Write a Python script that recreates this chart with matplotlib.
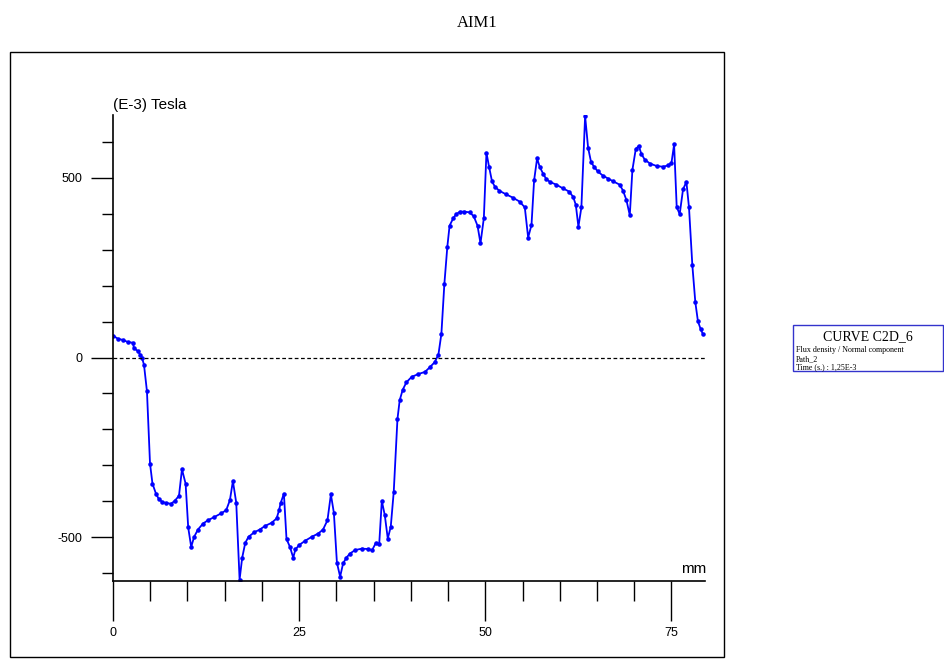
import matplotlib
matplotlib.use("Agg")
from matplotlib import pyplot as plt
from matplotlib.patches import Rectangle
from matplotlib.ticker import MultipleLocator

plt.rcParams["axes.unicode_minus"] = False

# Flux density, normal component along Path_2
x_mm = [0, 0.67, 1.34, 2.0, 2.7, 2.8, 3.35, 3.67, 3.9, 4.16,
        4.56, 4.97, 5.3, 5.77, 6.13, 6.6, 7.15, 7.8, 8.28, 8.86,
        9.26, 9.75, 10.1, 10.5, 10.9, 11.4, 12.1, 12.75, 13.6, 14.5,
        15.2, 15.7, 16.1, 16.55, 17.0, 17.35, 17.76, 18.2, 19.0, 19.7,
        20.4, 21.3, 21.97, 22.3, 22.5, 22.95, 23.3, 23.76, 24.2, 24.5,
        25.0, 25.8, 26.7, 27.55, 28.2, 28.8, 29.26, 29.66, 30.07, 30.5,
        30.9, 31.35, 31.8, 32.5, 33.4, 34.3, 34.8, 35.3, 35.75, 36.1,
        36.5, 36.9, 37.3, 37.7, 38.2, 38.5, 38.9, 39.4, 40.1, 41.0,
        41.9, 42.55, 43.2, 43.7, 44.1, 44.5, 44.9, 45.2, 45.7, 46.1,
        46.6, 47.2, 47.9, 48.45, 48.95, 49.35, 49.8, 50.15, 50.5, 50.9,
        51.3, 51.9, 52.8, 53.7, 54.6, 55.3, 55.75, 56.2, 56.55, 56.95,
        57.3, 57.75, 58.2, 58.75, 59.55, 60.4, 61.25, 61.8, 62.15, 62.5,
        62.9, 63.4, 63.8, 64.2, 64.6, 65.1, 65.8, 66.5, 67.2, 68.05,
        68.5, 68.95, 69.4, 69.75, 70.2, 70.6, 70.95, 71.4, 72.1, 73.0,
        73.9, 74.55, 75.0, 75.35, 75.7, 76.1, 76.55, 77.0, 77.35, 77.8,
        78.2, 78.55, 78.9, 79.2]
b_mT = [61, 52, 49, 43, 41, 26, 18, 7, -1, -20,
        -94, -295, -351, -379, -393, -402, -405, -407, -399, -385,
        -311, -351, -473, -527, -499, -479, -462, -453, -444, -434,
        -425, -397, -344, -404, -618, -557, -516, -499, -486, -479,
        -469, -460, -448, -425, -406, -379, -505, -527, -557, -534,
        -522, -510, -499, -490, -479, -453, -381, -432, -571, -610,
        -573, -557, -546, -536, -532, -533, -536, -516, -519, -399,
        -439, -504, -471, -374, -171, -119, -90, -69, -54, -46,
        -40, -27, -13, 8, 66, 205, 309, 367, 388, 399,
        406, 406, 404, 393, 367, 318, 388, 570, 531, 490,
        475, 464, 454, 445, 434, 418, 334, 369, 493, 554,
        531, 512, 496, 488, 481, 471, 462, 447, 425, 364,
        418, 672, 584, 544, 531, 518, 506, 498, 490, 481,
        464, 438, 396, 522, 580, 589, 567, 551, 540, 533,
        531, 535, 542, 593, 419, 399, 468, 489, 418, 257,
        154, 101, 80, 66]

x_ticks = [0, 25, 50, 75]
y_ticks = [-500, 0, 500]

W, H = 944, 668


def fx(px):
    return px / W


def fy(py):
    return 1 - py / H


fig = plt.figure(figsize=(W / 100, H / 100), dpi=100)
fig.patch.set_facecolor("white")

# outer frame around the plot area
fig.add_artist(Rectangle((fx(10), fy(657)), fx(724) - fx(10), fy(52) - fy(657),
                         transform=fig.transFigure, fill=False,
                         edgecolor="black", lw=1.0))

fig.text(fx(477), fy(23), "AIM1", ha="center", va="center",
         family="Liberation Serif", fontsize=12)

ax = fig.add_axes([fx(113), fy(581), fx(705) - fx(113), fy(115) - fy(581)])
ax.plot(x_mm, b_mT, color="#0000ff", lw=1.3, marker=".", ms=4.5)
ax.axhline(0, color="black", lw=0.9, ls=(0, (3, 2)))

ax.set_xlim(0, 79.5)
ax.set_ylim(-622, 675)

for s in ["top", "right"]:
    ax.spines[s].set_visible(False)
for s in ["left", "bottom"]:
    ax.spines[s].set_linewidth(1.2)

ax.set_xticks(x_ticks)
ax.set_yticks(y_ticks)
ax.xaxis.set_minor_locator(MultipleLocator(5))
ax.yaxis.set_minor_locator(MultipleLocator(100))
ax.tick_params(axis="x", which="major", direction="out", length=29, width=1.0, pad=4)
ax.tick_params(axis="x", which="minor", direction="out", length=14.5, width=1.0)
ax.tick_params(axis="y", which="major", direction="out", length=16, width=1.0, pad=6)
ax.tick_params(axis="y", which="minor", direction="out", length=8, width=1.0)
for lab in ax.get_xticklabels() + ax.get_yticklabels():
    lab.set_family("Liberation Sans")
    lab.set_fontsize(9)

fig.text(fx(113), fy(105), "(E-3) Tesla", ha="left", va="center",
         family="Liberation Sans", fontsize=11)
fig.text(fx(706), fy(569), "mm", ha="right", va="center",
         family="Liberation Sans", fontsize=11)

# curve legend box on the right
fig.add_artist(Rectangle((fx(793), fy(371)), fx(943) - fx(793), fy(325) - fy(371),
                         transform=fig.transFigure, fill=False,
                         edgecolor="#3333cc", lw=1.0))
fig.text(fx(868), fy(337), "CURVE C2D_6", ha="center", va="center",
         family="Liberation Serif", fontsize=10)
fig.text(fx(796), fy(350), "Flux density / Normal component", ha="left", va="center",
         family="Liberation Serif", fontsize=5.8)
fig.text(fx(796), fy(359), "Path_2", ha="left", va="center",
         family="Liberation Serif", fontsize=5.8)
fig.text(fx(796), fy(367), "Time (s.) : 1,25E-3", ha="left", va="center",
         family="Liberation Serif", fontsize=5.8)

plt.savefig("out.png", dpi=100)
